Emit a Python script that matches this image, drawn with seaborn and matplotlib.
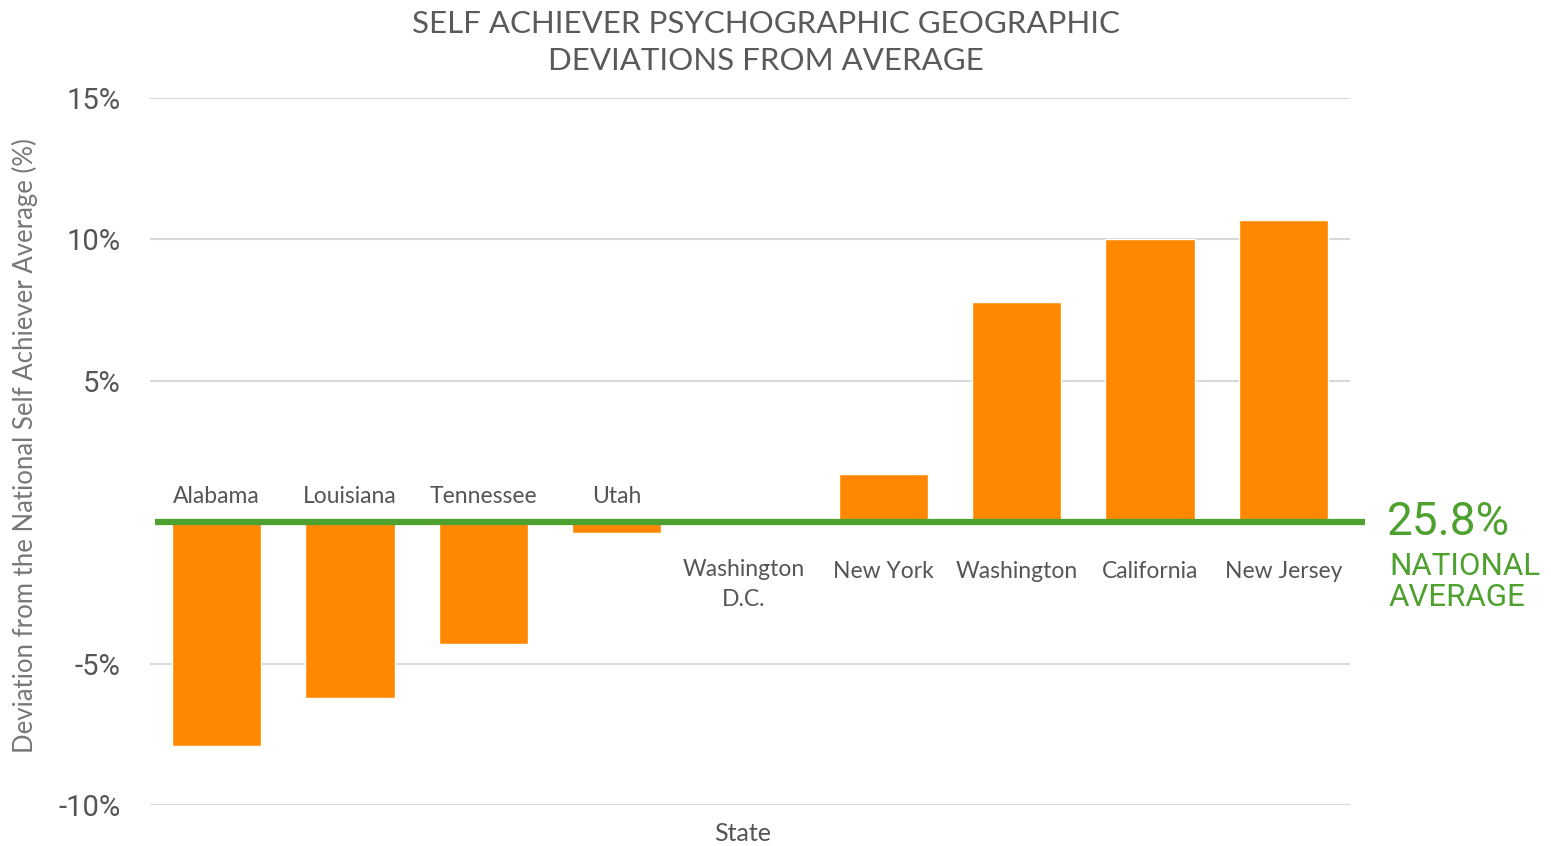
import pandas as pd
import seaborn as sns
import matplotlib.pyplot as plt

states = ["Alabama", "Louisiana", "Tennessee", "Utah", "Washington\nD.C.",
          "New York", "Washington", "California", "New Jersey"]
deviation = [-7.9, -6.2, -4.3, -0.4, 0.0, 1.7, 7.8, 10.0, 10.7]
ytick_values = [-10, -5, 5, 10, 15]
ytick_labels = ["-10%", "-5%", "5%", "10%", "15%"]
national_avg = "25.8%"

ORANGE = "#ff8800"
GREEN = "#4ea12f"
GREY = "#555555"

df = pd.DataFrame({"state": states, "deviation": deviation})

sns.set_style("white")
plt.rcParams["font.family"] = ["Lato", "DejaVu Sans"]

fig = plt.figure(figsize=(15.51, 8.46), dpi=100)
ax = fig.add_axes([0.0967, 0.0485, 0.7737, 0.8357])

sns.barplot(data=df, x="state", y="deviation", color=ORANGE, saturation=1,
            width=0.67, errorbar=None, ax=ax, zorder=2)

ax.set_xlim(-0.5, len(states) - 0.5)
ax.set_ylim(-10, 15)
ax.set_yticks(ytick_values)
ax.set_yticklabels(ytick_labels, fontsize=21, color=GREY, family="Roboto")
ax.tick_params(axis="y", length=0, pad=21)
ax.set_xticks([])
ax.set_xlabel("")
for y in ytick_values:
    ax.axhline(y, color="#d9d9d9", lw=1.5, zorder=0)
for s in ax.spines.values():
    s.set_visible(False)

# state labels: above the zero line for negatives, below otherwise
for i, (name, v) in enumerate(zip(states, deviation)):
    if v < 0:
        ax.text(i, 0.9, name, ha="center", va="center", fontsize=16.5, color=GREY)
    elif "\n" in name:
        ax.text(i - 0.05, -1.3, name, ha="center", va="top", fontsize=16.5,
                color=GREY, linespacing=1.55)
    else:
        ax.text(i, -1.75, name, ha="center", va="center", fontsize=16.5, color=GREY)

ax.plot([-0.46, 8.61], [0, 0], color=GREEN, lw=4.5, clip_on=False, zorder=3,
        solid_capstyle="butt")

fig.text(0.8945, 0.383, national_avg, color=GREEN, fontsize=33,
         family="Roboto", ha="left", va="center")
fig.text(0.8955, 0.312, "NATIONAL\nAVERAGE", color=GREEN, fontsize=22.5,
         family="Roboto", ha="left", va="center", linespacing=1.08)

ax.set_ylabel("Deviation from the National Self Achiever Average (%)",
              fontsize=18.5, color="#777777")
ax.yaxis.set_label_coords(-0.093, 0.508)
fig.text(743 / 1551, 1 - 833 / 846, "State", ha="center", va="center",
         fontsize=18, color=GREY)

fig.text(0.494, 0.95, "SELF ACHIEVER PSYCHOGRAPHIC GEOGRAPHIC\nDEVIATIONS FROM AVERAGE",
         ha="center", va="center", fontsize=22.5, color="#5a5a5a", linespacing=1.38)

fig.savefig("out.png", dpi=100)
